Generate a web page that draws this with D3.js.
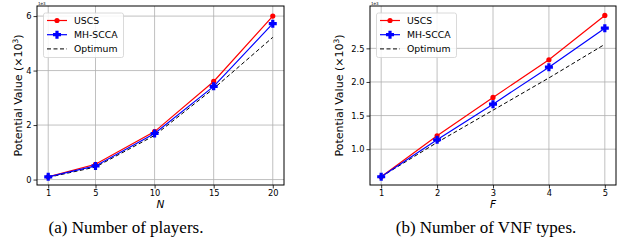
<!DOCTYPE html>
<html>
<head>
<meta charset="utf-8">
<script src="https://cdn.jsdelivr.net/npm/d3@7"></script>
<style>
  body { margin: 0; background: #fff; }
  text { font-family: "DejaVu Sans", sans-serif; }
</style>
</head>
<body>
<svg id="chart" width="618" height="243"></svg>
<script>
// Panel (a): number of players N
const playersN = [1, 5, 10, 15, 20];
const playersUSCS = [0.1, 0.56, 1.76, 3.6, 6.0];
const playersMH = [0.1, 0.5, 1.69, 3.42, 5.72];
const playersOpt = [0.08, 0.46, 1.62, 3.34, 5.22];
const playersXTicks = [1, 5, 10, 15, 20];
const playersYTicks = [0, 2, 4, 6];

// Panel (b): number of VNF types F
const vnfF = [1, 2, 3, 4, 5];
const vnfUSCS = [0.59, 1.2, 1.77, 2.33, 2.99];
const vnfMH = [0.59, 1.14, 1.67, 2.22, 2.8];
const vnfOpt = [0.59, 1.1, 1.58, 2.06, 2.56];
const vnfXTicks = [1, 2, 3, 4, 5];
const vnfYTicks = [1.0, 1.5, 2.0, 2.5];

const seriesNames = ["USCS", "MH-SCCA", "Optimum"];
const captions = ["(a) Number of players.", "(b) Number of VNF types."];

const svg = d3.select("#chart");

// plus-shaped filled marker (matplotlib "P")
function plusPath(cx, cy, s) {
  const a = s, b = s * 0.4;
  return `M${cx - b},${cy - a}H${cx + b}V${cy - b}H${cx + a}V${cy + b}H${cx + b}V${cy + a}H${cx - b}V${cy + b}H${cx - a}V${cy - b}H${cx - b}Z`;
}

function drawPanel(o) {
  const g = svg.append("g");
  const x = d3.scaleLinear().domain(o.xDomain).range([o.left, o.right]);
  const y = d3.scaleLinear().domain(o.yDomain).range([o.bottom, o.top]);

  // grid
  g.selectAll(".gx").data(o.xTicks).enter().append("line")
    .attr("x1", d => x(d)).attr("x2", d => x(d))
    .attr("y1", o.top).attr("y2", o.bottom)
    .attr("stroke", "#b0b0b0").attr("stroke-width", 0.8);
  g.selectAll(".gy").data(o.yTicks).enter().append("line")
    .attr("x1", o.left).attr("x2", o.right)
    .attr("y1", d => y(d)).attr("y2", d => y(d))
    .attr("stroke", "#b0b0b0").attr("stroke-width", 0.8);

  // axes
  const xAxis = d3.axisBottom(x).tickValues(o.xTicks).tickSize(3.5).tickPadding(2)
    .tickFormat(o.xFormat);
  const yAxis = d3.axisLeft(y).tickValues(o.yTicks).tickSize(3.5).tickPadding(2)
    .tickFormat(o.yFormat);
  const gx = g.append("g").attr("transform", `translate(0,${o.bottom})`).call(xAxis);
  const gy = g.append("g").attr("transform", `translate(${o.left},0)`).call(yAxis);
  [gx, gy].forEach(a => {
    a.select(".domain").remove();
    a.selectAll("text").attr("font-size", 8.3).attr("fill", "#000")
      .attr("font-family", "DejaVu Sans");
    a.selectAll("line").attr("stroke", "#000").attr("stroke-width", 0.8);
  });

  // frame
  g.append("rect").attr("x", o.left).attr("y", o.top)
    .attr("width", o.right - o.left).attr("height", o.bottom - o.top)
    .attr("fill", "none").attr("stroke", "#000").attr("stroke-width", 1);

  // offset text
  g.append("text").attr("x", o.left + 1).attr("y", o.top - 1.5)
    .attr("font-size", 4).text("1e3");

  const line = d3.line().x(d => x(d[0])).y(d => y(d[1]));
  const mk = vals => o.xs.map((v, i) => [v, vals[i]]);

  // optimum dashed
  g.append("path").datum(mk(o.opt)).attr("d", line)
    .attr("fill", "none").attr("stroke", "#000").attr("stroke-width", 1)
    .attr("stroke-dasharray", "4,2.5");
  // USCS
  g.append("path").datum(mk(o.uscs)).attr("d", line)
    .attr("fill", "none").attr("stroke", "#ff0000").attr("stroke-width", 1.2);
  g.selectAll(".pu").data(mk(o.uscs)).enter().append("circle")
    .attr("cx", d => x(d[0])).attr("cy", d => y(d[1])).attr("r", 2.6)
    .attr("fill", "#ff0000");
  // MH-SCCA
  g.append("path").datum(mk(o.mh)).attr("d", line)
    .attr("fill", "none").attr("stroke", "#0000ff").attr("stroke-width", 1.2);
  g.selectAll(".pm").data(mk(o.mh)).enter().append("path")
    .attr("d", d => plusPath(x(d[0]), y(d[1]), 4))
    .attr("fill", "#0000ff");

  // axis labels
  g.append("text")
    .attr("transform", `translate(${o.left - o.yLabelOff},${(o.top + o.bottom) / 2}) rotate(-90)`)
    .attr("text-anchor", "middle").attr("font-size", 11)
    .html("Potential Value (×10<tspan baseline-shift='super' font-size='7.5'>3</tspan>)");
  g.append("text").attr("x", (o.left + o.right) / 2).attr("y", o.bottom + 23)
    .attr("text-anchor", "middle").attr("font-size", 10.5).attr("font-style", "italic")
    .text(o.xLabel);

  // legend
  const lx = o.left + 6.5, ly = o.top + 7;
  g.append("rect").attr("x", lx).attr("y", ly).attr("width", 80).attr("height", 44.5)
    .attr("rx", 2).attr("fill", "#fff").attr("fill-opacity", 0.85)
    .attr("stroke", "#d0d0d0").attr("stroke-width", 0.8);
  seriesNames.forEach((name, i) => {
    const yy = ly + 7.5 + i * 14.2;
    const colors = ["#ff0000", "#0000ff", "#000"];
    g.append("line").attr("x1", lx + 3.5).attr("x2", lx + 23.5)
      .attr("y1", yy).attr("y2", yy).attr("stroke", colors[i])
      .attr("stroke-width", i === 2 ? 1 : 1.2)
      .attr("stroke-dasharray", i === 2 ? "4,2.5" : null);
    if (i === 0) g.append("circle").attr("cx", lx + 13.5).attr("cy", yy).attr("r", 2.6).attr("fill", colors[0]);
    if (i === 1) g.append("path").attr("d", plusPath(lx + 13.5, yy, 4)).attr("fill", colors[1]);
    g.append("text").attr("x", lx + 30.5).attr("y", yy + 3.3)
      .attr("font-size", 9.3).text(name);
  });

  svg.append("text").attr("x", o.captionX).attr("y", 233)
    .attr("text-anchor", "middle").attr("font-size", 17)
    .style("font-family", "'Liberation Serif', serif")
    .text(o.caption);
}

drawPanel({
  left: 37, right: 284, top: 6, bottom: 185,
  xDomain: [0.05, 20.95], yDomain: [-0.2, 6.37],
  xTicks: playersXTicks, yTicks: playersYTicks,
  xFormat: d3.format("d"), yFormat: d3.format("d"),
  xs: playersN, uscs: playersUSCS, mh: playersMH, opt: playersOpt,
  xLabel: "N", caption: captions[0], captionX: 126, yLabelOff: 15
});

drawPanel({
  left: 370, right: 616, top: 6, bottom: 185,
  xDomain: [0.8, 5.2], yDomain: [0.467, 3.13],
  xTicks: vnfXTicks, yTicks: vnfYTicks,
  xFormat: d3.format("d"), yFormat: d3.format(".1f"),
  xs: vnfF, uscs: vnfUSCS, mh: vnfMH, opt: vnfOpt,
  xLabel: "F", caption: captions[1], captionX: 486, yLabelOff: 27
});
</script>
</body>
</html>
